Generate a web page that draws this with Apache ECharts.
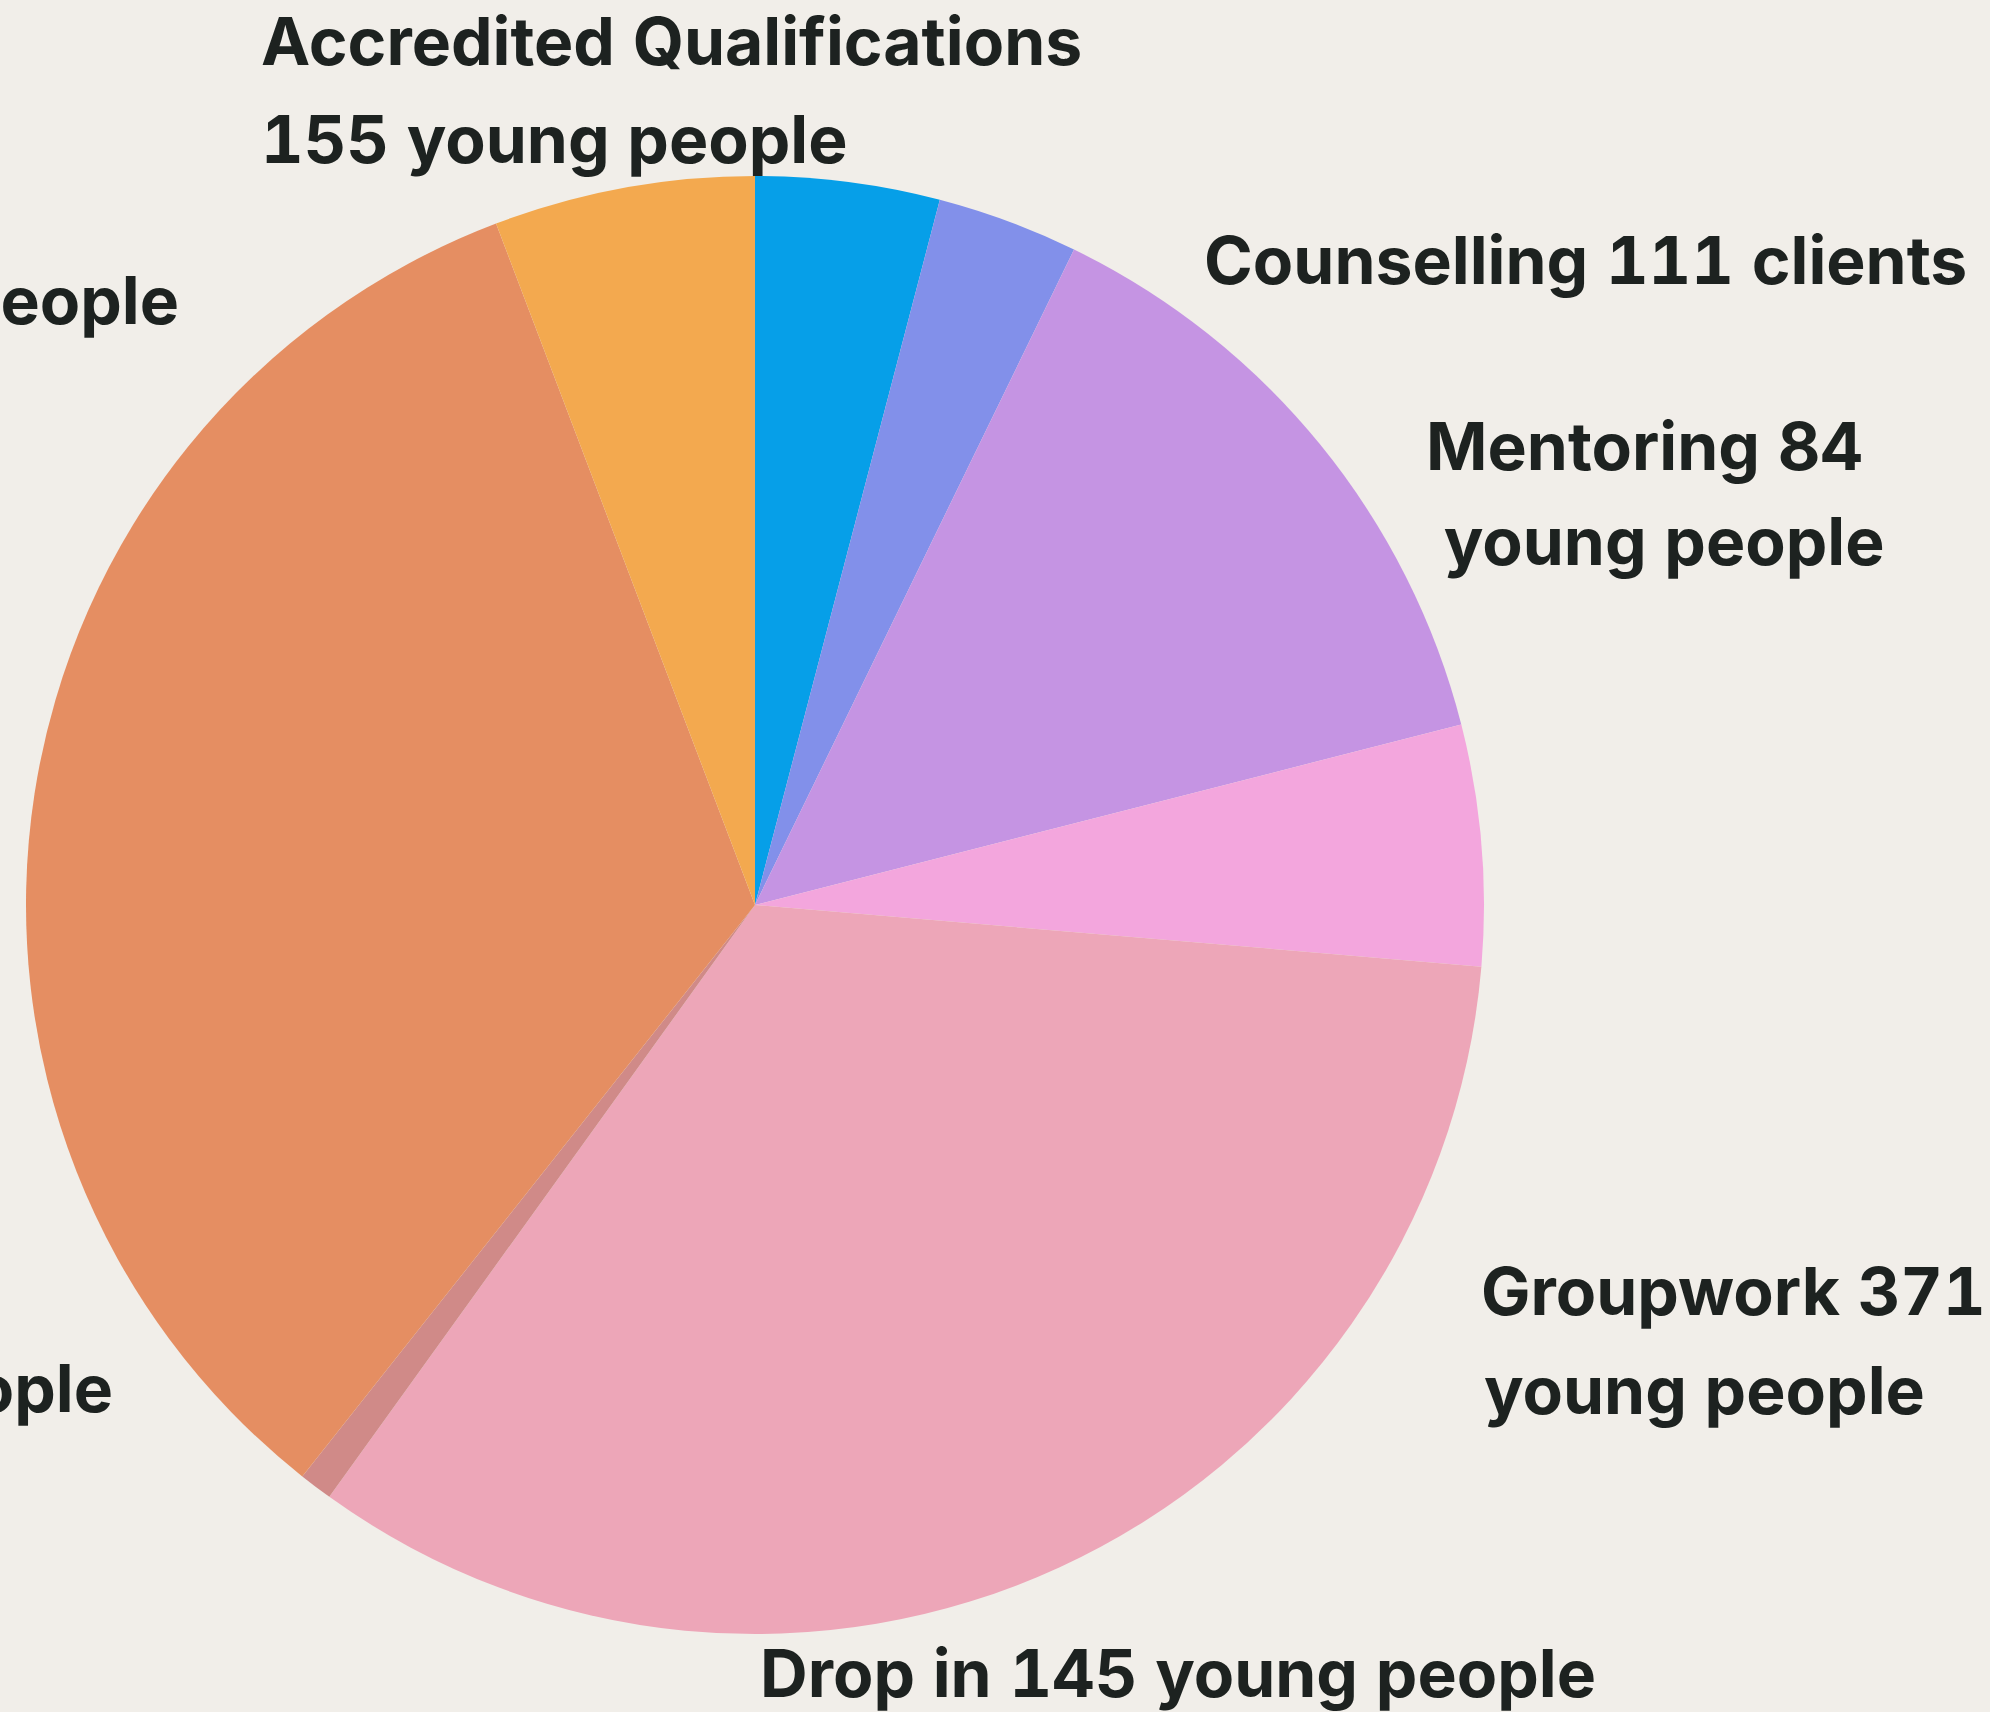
<!DOCTYPE html>
<html>
<head>
<meta charset="utf-8">
<script src="https://cdn.jsdelivr.net/npm/echarts@6/dist/echarts.min.js"></script>
<style>
html,body{margin:0;padding:0;background:#f1eee9;}
#chart{width:1990px;height:1712px;}
#chart text{font-variant-numeric:tabular-nums !important;font-feature-settings:"tnum" 1 !important;}
</style>
</head>
<body>
<div id="chart"></div>
<script>
// Slice shares (percent of the circle), clockwise from 12 o'clock
const sliceNames = ['Blue', 'Periwinkle', 'Lilac', 'Pink', 'Groupwork', 'Small', 'Orange', 'Accredited'];
const sliceValues = [4.08, 3.13, 13.81, 5.33, 33.58, 0.74, 33.56, 5.78];
const sliceColors = ['#069fe8', '#8290ea', '#c594e3', '#f3a6dd', '#eda6b8', '#d08a88', '#e58e62', '#f3a94f'];

// Free-standing label texts as they appear
const labelTexts = [
  'Accredited Qualifications',
  '155 young people',
  'young people',
  'Counselling 111 clients',
  'Mentoring 84',
  ' young people',
  'Groupwork 371',
  'young people',
  'Drop in 145 young people',
  'young people'
];
// [x, baseline y, align]
const labelPos = [
  [261, 63, 'left'],
  [261, 161, 'left'],
  [179, 322, 'right'],
  [1204, 282, 'left'],
  [1426, 468, 'left'],
  [1426, 563, 'left'],
  [1481, 1313, 'left'],
  [1484, 1412, 'left'],
  [760, 1695, 'left'],
  [113, 1410, 'right']
];

const FONT = 'Inter';
const SIZE = 66;
const BASE_SHIFT = 11;
const chart = echarts.init(document.getElementById('chart'), null, {renderer: 'svg'});
chart.setOption({
  backgroundColor: '#f1eee9',
  animation: false,
  series: [{
    type: 'pie',
    center: [755, 905],
    radius: [0, 729],
    startAngle: 90,
    clockwise: true,
    label: {show: false},
    labelLine: {show: false},
    emphasis: {disabled: true},
    itemStyle: {borderWidth: 0},
    data: sliceNames.map((n, i) => ({name: n, value: sliceValues[i], itemStyle: {color: sliceColors[i]}}))
  }],
  graphic: labelTexts.map((t, i) => ({
    type: 'text',
    x: labelPos[i][0],
    y: labelPos[i][1] + BASE_SHIFT,
    style: {
      text: t,
      fill: '#1d2220',
      font: '700 ' + SIZE + 'px ' + FONT,
      textAlign: labelPos[i][2],
      textVerticalAlign: 'bottom'
    }
  }))
});
</script>
</body>
</html>
